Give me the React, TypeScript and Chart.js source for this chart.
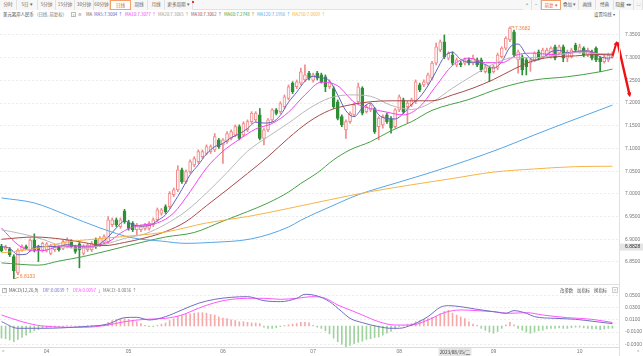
import React, { useEffect, useRef } from "react";
import { Chart, registerables } from "chart.js";

Chart.register(...registerables);

// ---------------- data ----------------
const opens = [
  6.885, 6.878, 6.878, 6.862, 6.826, 6.876, 6.884, 6.876, 6.898, 6.884,
  6.876, 6.876, 6.869, 6.877, 6.884, 6.880, 6.884, 6.895, 6.884, 6.890,
  6.869, 6.877, 6.877, 6.899, 6.888, 6.893, 6.895, 6.932, 6.943, 6.928,
  6.962, 6.938, 6.935, 6.921, 6.921, 6.924, 6.924, 6.932, 6.943, 6.957,
  6.972, 6.972, 6.998, 7.009, 7.053, 7.027, 7.049, 7.064, 7.071, 7.082,
  7.089, 7.093, 7.097, 7.119, 7.108, 7.115, 7.122, 7.130, 7.148, 7.130,
  7.141, 7.159, 7.163, 7.174, 7.122, 7.141, 7.163, 7.185, 7.181, 7.192,
  7.210, 7.244, 7.236, 7.244, 7.251, 7.266, 7.250, 7.266, 7.262, 7.258,
  7.236, 7.232, 7.203, 7.170, 7.141, 7.159, 7.174, 7.203, 7.233, 7.181,
  7.185, 7.188, 7.148, 7.152, 7.174, 7.166, 7.148, 7.185, 7.207, 7.192,
  7.196, 7.203, 7.240, 7.240, 7.244, 7.255, 7.288, 7.317, 7.335, 7.299,
  7.306, 7.284, 7.288, 7.288, 7.295, 7.288, 7.295, 7.295, 7.269, 7.277,
  7.269, 7.277, 7.302, 7.321, 7.339, 7.357, 7.295, 7.302, 7.295, 7.288,
  7.295, 7.313, 7.302, 7.306, 7.302, 7.324, 7.310, 7.324, 7.299, 7.302,
  7.328, 7.313, 7.321, 7.306, 7.313, 7.321, 7.299, 7.291, 7.295, 7.302,
];
const highs = [
  6.889, 6.887, 6.882, 6.866, 6.879, 6.888, 6.887, 6.901, 6.912, 6.887,
  6.894, 6.893, 6.889, 6.887, 6.887, 6.898, 6.903, 6.899, 6.887, 6.893,
  6.888, 6.891, 6.895, 6.903, 6.906, 6.910, 6.950, 6.947, 6.947, 6.947,
  6.966, 6.942, 6.939, 6.935, 6.932, 6.935, 6.939, 6.947, 6.969, 6.968,
  6.976, 7.005, 7.013, 7.062, 7.057, 7.053, 7.075, 7.082, 7.097, 7.097,
  7.108, 7.108, 7.133, 7.122, 7.122, 7.137, 7.141, 7.152, 7.152, 7.159,
  7.163, 7.181, 7.181, 7.188, 7.144, 7.166, 7.188, 7.188, 7.203, 7.218,
  7.240, 7.247, 7.251, 7.277, 7.284, 7.270, 7.266, 7.270, 7.266, 7.262,
  7.251, 7.236, 7.207, 7.174, 7.163, 7.181, 7.200, 7.244, 7.236, 7.196,
  7.200, 7.190, 7.170, 7.174, 7.178, 7.170, 7.188, 7.218, 7.211, 7.204,
  7.211, 7.251, 7.244, 7.251, 7.266, 7.292, 7.332, 7.339, 7.350, 7.313,
  7.313, 7.299, 7.292, 7.299, 7.299, 7.306, 7.299, 7.299, 7.284, 7.280,
  7.284, 7.310, 7.324, 7.346, 7.3682, 7.361, 7.317, 7.306, 7.299, 7.299,
  7.313, 7.317, 7.321, 7.321, 7.324, 7.328, 7.328, 7.328, 7.317, 7.321,
  7.332, 7.330, 7.324, 7.321, 7.317, 7.324, 7.302, 7.306, 7.310, 7.313,
];
const lows = [
  6.872, 6.876, 6.862, 6.8133, 6.822, 6.873, 6.877, 6.873, 6.872, 6.851,
  6.872, 6.872, 6.866, 6.873, 6.874, 6.877, 6.881, 6.881, 6.869, 6.837,
  6.865, 6.873, 6.873, 6.880, 6.884, 6.889, 6.891, 6.928, 6.928, 6.924,
  6.935, 6.920, 6.917, 6.910, 6.917, 6.920, 6.920, 6.928, 6.939, 6.953,
  6.957, 6.968, 6.994, 7.005, 7.023, 7.023, 7.045, 7.060, 7.067, 7.078,
  7.086, 7.089, 7.093, 7.100, 7.067, 7.111, 7.119, 7.126, 7.119, 7.126,
  7.137, 7.155, 7.159, 7.119, 7.108, 7.137, 7.159, 7.174, 7.177, 7.188,
  7.207, 7.221, 7.232, 7.240, 7.247, 7.251, 7.246, 7.251, 7.244, 7.225,
  7.232, 7.188, 7.163, 7.148, 7.122, 7.155, 7.170, 7.199, 7.174, 7.178,
  7.181, 7.133, 7.119, 7.145, 7.155, 7.134, 7.145, 7.181, 7.177, 7.156,
  7.192, 7.199, 7.225, 7.236, 7.240, 7.251, 7.284, 7.313, 7.298, 7.295,
  7.284, 7.280, 7.280, 7.284, 7.284, 7.284, 7.280, 7.269, 7.266, 7.247,
  7.266, 7.273, 7.299, 7.317, 7.335, 7.302, 7.266, 7.262, 7.262, 7.270,
  7.291, 7.295, 7.299, 7.302, 7.299, 7.295, 7.306, 7.291, 7.291, 7.299,
  7.313, 7.310, 7.302, 7.302, 7.295, 7.291, 7.269, 7.288, 7.291, 7.299,
];
const closes = [
  6.875, 6.884, 6.866, 6.831, 6.876, 6.884, 6.880, 6.898, 6.876, 6.876,
  6.891, 6.890, 6.885, 6.884, 6.877, 6.895, 6.899, 6.884, 6.873, 6.877,
  6.884, 6.888, 6.891, 6.884, 6.902, 6.906, 6.943, 6.943, 6.932, 6.943,
  6.938, 6.924, 6.921, 6.932, 6.928, 6.932, 6.935, 6.943, 6.965, 6.965,
  6.961, 7.001, 7.009, 7.053, 7.027, 7.049, 7.071, 7.078, 7.093, 7.093,
  7.104, 7.104, 7.126, 7.104, 7.119, 7.133, 7.137, 7.148, 7.122, 7.155,
  7.159, 7.178, 7.178, 7.122, 7.141, 7.163, 7.185, 7.177, 7.199, 7.214,
  7.236, 7.225, 7.247, 7.269, 7.262, 7.255, 7.262, 7.255, 7.247, 7.236,
  7.247, 7.192, 7.166, 7.152, 7.159, 7.178, 7.196, 7.236, 7.178, 7.192,
  7.196, 7.137, 7.167, 7.170, 7.159, 7.145, 7.185, 7.214, 7.181, 7.200,
  7.207, 7.247, 7.229, 7.247, 7.262, 7.288, 7.324, 7.335, 7.302, 7.310,
  7.288, 7.295, 7.284, 7.295, 7.288, 7.299, 7.284, 7.273, 7.280, 7.266,
  7.280, 7.306, 7.321, 7.343, 7.365, 7.306, 7.313, 7.273, 7.280, 7.295,
  7.310, 7.299, 7.317, 7.317, 7.321, 7.299, 7.324, 7.299, 7.313, 7.317,
  7.317, 7.324, 7.306, 7.317, 7.299, 7.295, 7.291, 7.302, 7.306, 7.310,
];

// moving averages: [candle index, value]
const ma5 = [
  [0, 6.884], [2, 6.880], [4, 6.866], [6, 6.867], [8, 6.883], [10, 6.884], [12, 6.884], [14, 6.885],
  [16, 6.888], [18, 6.886], [20, 6.883], [22, 6.883], [24, 6.890], [26, 6.905], [28, 6.925], [30, 6.940],
  [32, 6.932], [34, 6.929], [36, 6.930], [38, 6.941], [40, 6.954], [42, 6.980], [44, 7.010], [46, 7.042],
  [48, 7.064], [50, 7.088], [52, 7.104], [54, 7.111], [56, 7.124], [58, 7.132], [60, 7.144], [62, 7.158],
  [64, 7.156], [66, 7.158], [68, 7.173], [70, 7.202], [72, 7.224], [74, 7.248], [76, 7.259], [78, 7.256],
  [80, 7.249], [82, 7.218], [84, 7.183], [86, 7.170], [88, 7.189], [90, 7.200], [92, 7.174], [94, 7.166],
  [96, 7.165], [98, 7.177], [100, 7.197], [102, 7.213], [104, 7.238], [106, 7.270], [108, 7.302], [110, 7.312],
  [112, 7.296], [114, 7.290], [116, 7.290], [118, 7.285], [120, 7.277], [122, 7.291], [124, 7.323], [126, 7.330],
  [128, 7.307], [130, 7.294], [132, 7.300], [134, 7.313], [136, 7.316], [138, 7.311], [140, 7.314], [142, 7.315],
  [144, 7.313], [146, 7.302], [148, 7.299], [149, 7.3004],
];
const ma10 = [
  [0, 6.925], [2, 6.905], [4, 6.888], [6, 6.878], [8, 6.875], [10, 6.875], [14, 6.884], [18, 6.885],
  [22, 6.885], [26, 6.894], [30, 6.919], [34, 6.931], [38, 6.936], [42, 6.958], [46, 7.005], [50, 7.057],
  [54, 7.094], [58, 7.120], [62, 7.143], [66, 7.155], [70, 7.180], [74, 7.218], [78, 7.246], [82, 7.238],
  [86, 7.202], [90, 7.188], [94, 7.180], [98, 7.174], [102, 7.192], [106, 7.238], [110, 7.283], [114, 7.299],
  [118, 7.289], [122, 7.289], [126, 7.307], [130, 7.310], [134, 7.307], [138, 7.309], [142, 7.314], [146, 7.308],
  [149, 7.3077],
];
const ma20 = [
  [0, 6.921], [5, 6.912], [10, 6.900], [15, 6.884], [20, 6.880], [25, 6.888], [30, 6.902], [35, 6.912],
  [40, 6.933], [45, 6.962], [50, 7.002], [55, 7.047], [60, 7.094], [65, 7.126], [70, 7.156], [75, 7.188],
  [80, 7.211], [85, 7.218], [90, 7.215], [95, 7.195], [100, 7.186], [105, 7.202], [110, 7.233], [115, 7.261],
  [120, 7.286], [125, 7.300], [130, 7.300], [135, 7.305], [140, 7.311], [145, 7.309], [149, 7.3065],
];
const ma30 = [
  [0, 6.900], [8, 6.905], [15, 6.900], [20, 6.893], [25, 6.886], [30, 6.893], [35, 6.903], [40, 6.917],
  [45, 6.939], [50, 6.974], [55, 7.009], [60, 7.045], [65, 7.082], [70, 7.123], [75, 7.159], [80, 7.184],
  [85, 7.196], [90, 7.203], [95, 7.205], [100, 7.205], [105, 7.205], [110, 7.218], [115, 7.233], [120, 7.252],
  [125, 7.275], [130, 7.294], [135, 7.302], [140, 7.304], [145, 7.307], [149, 7.3062],
];
const ma60 = [
  [0, 6.848], [9, 6.843], [14, 6.852], [20, 6.862], [30, 6.884], [40, 6.905], [47, 6.915], [54, 6.940],
  [60, 6.961], [65, 6.980], [70, 7.004], [73, 7.023], [77, 7.046], [81, 7.075], [85, 7.097], [90, 7.115],
  [95, 7.139], [100, 7.159], [105, 7.184], [114, 7.208], [122, 7.234], [130, 7.251], [138, 7.258], [146, 7.269],
  [149, 7.2748],
];
const ma120 = [
  [0, 6.991], [8, 6.980], [16, 6.953], [24, 6.925], [32, 6.903], [39, 6.896], [45, 6.891], [51, 6.893],
  [61, 6.901], [70, 6.927], [73, 6.942], [80, 6.971], [87, 6.998], [97, 7.026], [105, 7.048], [114, 7.075],
  [122, 7.101], [130, 7.130], [138, 7.158], [149, 7.1956],
];
const ma250 = [
  [0, 6.870], [8, 6.879], [16, 6.894], [26, 6.903], [40, 6.916], [50, 6.936], [60, 6.950], [70, 6.968],
  [80, 6.987], [90, 7.005], [100, 7.020], [110, 7.034], [120, 7.048], [130, 7.055], [140, 7.060], [149, 7.0609],
];

const macdHist = [
  -0.020, -0.021, -0.023, -0.026, -0.022, -0.019, -0.015, -0.011, -0.008, -0.006,
  -0.004, -0.003, -0.002, -0.002, -0.001, -0.001, 0.0005, 0.0005, -0.0005, -0.001,
  -0.0005, 0.0005, 0.001, 0.0005, 0.001, 0.002, 0.006, 0.009, 0.011, 0.012,
  0.012, 0.011, 0.009, 0.007, 0.004, 0.001, -0.001, -0.001, 0.001, 0.003,
  0.005, 0.009, 0.012, 0.016, 0.017, 0.019, 0.020, 0.021, 0.022, 0.022,
  0.021, 0.019, 0.018, 0.015, 0.013, 0.012, 0.010, 0.009, 0.007, 0.007,
  0.006, 0.005, 0.005, 0.004, -0.002, -0.004, -0.004, -0.003, -0.001, 0.001,
  0.002, 0.003, 0.004, 0.006, 0.006, 0.005, 0.001, -0.002, -0.004, -0.008,
  -0.013, -0.020, -0.026, -0.030, -0.034, -0.032, -0.029, -0.027, -0.025, -0.022,
  -0.021, -0.019, -0.018, -0.015, -0.012, -0.009, -0.005, -0.001, 0.001, 0.003,
  0.004, 0.007, 0.009, 0.011, 0.012, 0.014, 0.016, 0.020, 0.024, 0.026,
  0.021, 0.018, 0.015, 0.012, 0.007, 0.003, 0.001, -0.004, -0.007, -0.010,
  -0.012, -0.009, -0.004, 0.002, 0.006, 0.002, -0.004, -0.007, -0.010, -0.012,
  -0.010, -0.008, -0.007, -0.005, -0.004, -0.004, -0.003, -0.004, -0.004, -0.003,
  -0.002, -0.002, -0.003, -0.004, -0.005, -0.005, -0.006, -0.005, -0.004, -0.0036,
];
const difLine = [
  [0, 0.0071], [4, -0.0038], [10, -0.0038], [20, -0.001], [26, 0.0033], [30, 0.0137], [33, 0.0143], [36, 0.0099],
  [40, 0.0154], [44, 0.0264], [48, 0.0373], [52, 0.0439], [56, 0.0472], [60, 0.0483], [64, 0.0417], [68, 0.0401],
  [72, 0.0456], [74, 0.0522], [77, 0.0494], [80, 0.0401], [83, 0.0236], [85, 0.0126], [88, 0.0055], [92, -0.0011],
  [95, -0.0038], [97, -0.0038], [100, 0.0016], [104, 0.0154], [107, 0.0308], [109, 0.0335], [112, 0.0318], [116, 0.0274],
  [120, 0.0236], [123, 0.0209], [125, 0.0253], [128, 0.0209], [130, 0.0154], [135, 0.0126], [140, 0.011], [145, 0.0071],
  [149, 0.0039],
];
const deaLine = [
  [0, 0.0181], [5, 0.0071], [10, 0.0], [20, -0.0022], [26, 0.0016], [30, 0.0071], [35, 0.011], [40, 0.0126],
  [44, 0.0181], [48, 0.0291], [52, 0.0384], [56, 0.0439], [60, 0.0456], [64, 0.0456], [68, 0.0439], [72, 0.0456],
  [76, 0.0483], [79, 0.0456], [82, 0.0346], [85, 0.0264], [88, 0.0181], [92, 0.0071], [96, 0.0016], [100, 0.0016],
  [104, 0.0099], [108, 0.022], [112, 0.0264], [116, 0.0253], [120, 0.0236], [124, 0.0209], [128, 0.022], [132, 0.0181],
  [138, 0.0137], [144, 0.011], [149, 0.0057],
];

const monthTickIndex = [11, 31, 54, 76, 97, 120, 141];
const monthTickLabels = ["04", "05", "06", "07", "08", "09", "10"];
const priceTicks = [7.35, 7.3, 7.25, 7.2, 7.15, 7.1, 7.05, 7.0, 6.95, 6.9, 6.85];
const macdTicks = [0.05, 0.03, 0.01, -0.01, -0.03];

const maNames = ["MA5", "MA10", "MA20", "MA30", "MA60", "MA120", "MA250"];
const maLatest = [7.3004, 7.3077, 7.3065, 7.3062, 7.2748, 7.1956, 7.0609];
const maColors = ["#6262bd", "#f244f2", "#b8b8b8", "#a84a4a", "#45a045", "#55a6e8", "#f6b449"];
const difLatest = 0.0039;
const deaLatest = 0.0057;
const macdLatest = -0.0036;

const crosshairPrice = 6.8828;
const crosshairIndex = 110.6;
const crosshairDate = "2023/08/15/二";
const highIndex = 124;
const lowIndex = 3;
const arrowUp = [[149.1, 7.306], [150.1, 7.337]];
const arrowDown = [[150.3, 7.332], [153.3, 7.213]];

// ---------------- styling ----------------
const X_MIN = -0.37;
const X_MAX = 150.6;
const P_MIN = 6.7993;
const P_MAX = 7.3852;
const M_MIN = -0.0346;
const M_MAX = 0.0675;
const AXIS_W = 24;
const UP_FILL = "#fff2f2";
const UP_LINE = "#f08c8c";
const DOWN = "#2f8f36";
const MARK = "#ef7f3a";
const DIF_C = "#6e6ec2";
const DEA_C = "#ff55ff";
const TICK_FONT = { size: 5, family: "'Liberation Sans', Arial, sans-serif" };

const fixY = (axis: any) => {
  axis.width = AXIS_W;
  axis.paddingTop = 0;
  axis.paddingBottom = 0;
};
const fixX = (axis: any) => {
  axis.height = 9;
  axis.paddingLeft = 0;
  axis.paddingRight = 0;
};

function drawArrow(ctx: CanvasRenderingContext2D, x1: number, y1: number, x2: number, y2: number, w: number, head: number) {
  const a = Math.atan2(y2 - y1, x2 - x1);
  ctx.lineWidth = w;
  ctx.beginPath();
  ctx.moveTo(x1, y1);
  ctx.lineTo(x2 - Math.cos(a) * head * 0.6, y2 - Math.sin(a) * head * 0.6);
  ctx.stroke();
  ctx.beginPath();
  ctx.moveTo(x2, y2);
  ctx.lineTo(x2 - head * Math.cos(a - 0.45), y2 - head * Math.sin(a - 0.45));
  ctx.lineTo(x2 - head * Math.cos(a + 0.45), y2 - head * Math.sin(a + 0.45));
  ctx.closePath();
  ctx.fill();
}

const pricePlugin = {
  id: "priceMarks",
  afterDraw(chart: any) {
    const { ctx, scales, chartArea } = chart;
    const x = scales.x;
    const y = scales.y;
    ctx.save();
    ctx.font = "5px 'Liberation Sans', Arial, sans-serif";
    ctx.textBaseline = "middle";
    const hx = x.getPixelForValue(highIndex);
    const hy = y.getPixelForValue(highs[highIndex]);
    ctx.strokeStyle = MARK;
    ctx.fillStyle = MARK;
    ctx.lineWidth = 0.8;
    ctx.beginPath();
    ctx.moveTo(hx + 1, hy);
    ctx.lineTo(hx + 4, hy);
    ctx.lineTo(hx + 4, hy + 1.5);
    ctx.stroke();
    ctx.fillText(highs[highIndex].toFixed(4), hx + 5, hy + 2);
    const lx = x.getPixelForValue(lowIndex);
    const ly = y.getPixelForValue(lows[lowIndex]);
    ctx.beginPath();
    ctx.moveTo(lx + 1, ly);
    ctx.lineTo(lx + 5, ly - 1.5);
    ctx.stroke();
    ctx.fillText(lows[lowIndex].toFixed(4), lx + 6, ly - 2);
    const cy = y.getPixelForValue(crosshairPrice);
    ctx.fillStyle = "#e4e4e4";
    ctx.fillRect(chartArea.right + 1, cy - 3.5, AXIS_W - 1, 7);
    ctx.fillStyle = "#333";
    ctx.fillText(crosshairPrice.toFixed(4), chartArea.right + 6, cy);
    ctx.strokeStyle = "#ee1111";
    ctx.fillStyle = "#ee1111";
    ctx.lineCap = "round";
    drawArrow(ctx, x.getPixelForValue(arrowUp[0][0]), y.getPixelForValue(arrowUp[0][1]),
      x.getPixelForValue(arrowUp[1][0]), y.getPixelForValue(arrowUp[1][1]), 2, 5);
    drawArrow(ctx, x.getPixelForValue(arrowDown[0][0]), y.getPixelForValue(arrowDown[0][1]),
      x.getPixelForValue(arrowDown[1][0]), y.getPixelForValue(arrowDown[1][1]), 2.4, 5);
    ctx.restore();
  },
};

const macdPlugin = {
  id: "macdMarks",
  afterDraw(chart: any) {
    const { ctx, scales, chartArea } = chart;
    const px = scales.x.getPixelForValue(crosshairIndex);
    ctx.save();
    ctx.font = "4.6px 'Noto Sans CJK SC', sans-serif";
    ctx.textBaseline = "middle";
    ctx.textAlign = "center";
    const w = 33;
    ctx.fillStyle = "#e4e4e4";
    ctx.fillRect(px - w / 2, chartArea.bottom + 1, w, 8);
    ctx.fillStyle = "#333";
    ctx.fillText(crosshairDate, px, chartArea.bottom + 5);
    ctx.restore();
  },
};

const maSets = [ma5, ma10, ma20, ma30, ma60, ma120, ma250];

export default function App() {
  const priceRef = useRef<HTMLCanvasElement>(null);
  const macdRef = useRef<HTMLCanvasElement>(null);

  useEffect(() => {
    const up = (i: number) => closes[i] >= opens[i];
    const lineSets = maSets.map((pts, k) => ({
      type: "line",
      data: pts.map(([a, b]) => ({ x: a, y: b })),
      borderColor: maColors[k],
      borderWidth: 1,
      pointRadius: 0,
      cubicInterpolationMode: "monotone",
      order: 1 + (6 - k) * 0.01,
    }));
    const price = new Chart(priceRef.current as HTMLCanvasElement, {
      type: "bar",
      data: {
        datasets: [
          ...lineSets,
          {
            type: "bar",
            data: closes.map((c, i) => ({ x: i, y: [opens[i], c] })),
            backgroundColor: closes.map((_, i) => (up(i) ? UP_FILL : DOWN)),
            borderColor: closes.map((_, i) => (up(i) ? UP_LINE : DOWN)),
            borderWidth: 1,
            borderSkipped: false,
            barThickness: 3,
            minBarLength: 1,
            grouped: false,
            order: 5,
          },
          {
            type: "bar",
            data: closes.map((_, i) => ({ x: i, y: [lows[i], highs[i]] })),
            backgroundColor: closes.map((_, i) => (up(i) ? UP_LINE : DOWN)),
            borderWidth: 0,
            barThickness: 1,
            grouped: false,
            order: 6,
          },
        ] as any,
      },
      options: {
        responsive: false,
        animation: false,
        events: [],
        layout: { padding: 0 },
        plugins: { legend: { display: false }, tooltip: { enabled: false } },
        scales: {
          x: { type: "linear", min: X_MIN, max: X_MAX, offset: false, display: false },
          y: {
            type: "linear",
            position: "right",
            min: P_MIN,
            max: P_MAX,
            beginAtZero: false,
            afterFit: fixY,
            afterBuildTicks: (axis: any) => {
              axis.ticks = priceTicks.map((v) => ({ value: v }));
            },
            grid: { color: "#ececec", drawTicks: false },
            border: { display: true, color: "#dcdcdc", dash: [2, 2] },
            ticks: {
              padding: 6,
              color: "#777",
              font: TICK_FONT,
              callback: (v: any) => Number(v).toFixed(4),
            },
          },
        },
      } as any,
      plugins: [pricePlugin],
    });

    const macd = new Chart(macdRef.current as HTMLCanvasElement, {
      type: "bar",
      data: {
        datasets: [
          {
            type: "line",
            data: difLine.map(([a, b]) => ({ x: a, y: b })),
            borderColor: DIF_C,
            borderWidth: 1,
            pointRadius: 0,
            cubicInterpolationMode: "monotone",
            order: 1,
          },
          {
            type: "line",
            data: deaLine.map(([a, b]) => ({ x: a, y: b })),
            borderColor: DEA_C,
            borderWidth: 1,
            pointRadius: 0,
            cubicInterpolationMode: "monotone",
            order: 2,
          },
          {
            type: "bar",
            data: macdHist.map((v, i) => ({ x: i, y: v })),
            backgroundColor: macdHist.map((v) => (v >= 0 ? "#f5a9a9" : "#9ed39e")),
            borderWidth: 0,
            barThickness: 1,
            grouped: false,
            order: 5,
          },
        ] as any,
      },
      options: {
        responsive: false,
        animation: false,
        events: [],
        layout: { padding: 0 },
        plugins: { legend: { display: false }, tooltip: { enabled: false } },
        scales: {
          x: {
            type: "linear",
            min: X_MIN,
            max: X_MAX,
            offset: false,
            afterFit: fixX,
            afterBuildTicks: (axis: any) => {
              axis.ticks = monthTickIndex.map((v) => ({ value: v }));
            },
            grid: { display: false, drawTicks: false },
            border: { display: true, color: "#dcdcdc" },
            ticks: {
              padding: 2,
              color: "#777",
              font: TICK_FONT,
              autoSkip: false,
              maxRotation: 0,
              callback: (_v: any, idx: number) => monthTickLabels[idx],
            },
          },
          y: {
            type: "linear",
            position: "right",
            min: M_MIN,
            max: M_MAX,
            beginAtZero: false,
            afterFit: fixY,
            afterBuildTicks: (axis: any) => {
              axis.ticks = macdTicks.map((v) => ({ value: v }));
            },
            grid: { color: "#ececec", drawTicks: false },
            border: { display: true, color: "#dcdcdc", dash: [2, 2] },
            ticks: {
              padding: 6,
              color: "#777",
              font: TICK_FONT,
              callback: (v: any) => Number(v).toFixed(4),
            },
          },
        },
      } as any,
      plugins: [macdPlugin],
    });

    return () => {
      price.destroy();
      macd.destroy();
    };
  }, []);

  const cjk = "'Noto Sans CJK SC', 'Noto Sans', sans-serif";
  const btn = (label: string, left: number, width: number, active = false) => (
    <div
      key={label + left}
      style={{
        position: "absolute",
        top: 0,
        left,
        width,
        height: 10,
        lineHeight: "9px",
        fontSize: 4.6,
        textAlign: "center",
        color: active ? "#e8632a" : "#666",
        background: active ? "#fff" : "#f7f7f7",
        border: active ? "1px solid #f2a06c" : "none",
        borderRight: active ? "1px solid #f2a06c" : "1px solid #e2e2e2",
        boxSizing: "border-box",
        whiteSpace: "nowrap",
        overflow: "hidden",
      }}
    >
      {label}
    </div>
  );
  const txt = (content: any, left: number, top: number, color = "#555", size = 4.4) => (
    <div
      style={{
        position: "absolute",
        left,
        top,
        fontSize: size,
        lineHeight: "7px",
        color,
        whiteSpace: "nowrap",
      }}
    >
      {content}
    </div>
  );
  const maLefts = [94, 125, 158, 191, 224, 257, 292];

  return (
    <div
      style={{
        position: "absolute",
        left: 0,
        top: 0,
        width: 643,
        height: 356,
        background: "#fff",
        overflow: "hidden",
        fontFamily: cjk,
      }}
    >
      <div style={{ position: "absolute", left: 0, top: 0, width: 643, height: 10, background: "#f7f7f7", borderBottom: "1px solid #e2e2e2", boxSizing: "border-box" }} />
      {btn("分时", 0, 17)}
      {btn("5日 ▾", 17, 21)}
      {btn("5分钟", 38, 18)}
      {btn("15分钟", 56, 19)}
      {btn("30分钟", 75, 19)}
      {btn("60分钟", 94, 16)}
      {btn("日线", 110, 21, true)}
      {btn("周线", 131, 17)}
      {btn("月线", 148, 17)}
      {btn("更多周期 ▾", 165, 28)}
      <div style={{ position: "absolute", left: 192, top: 1, width: 2, height: 2, background: "#e33" }} />
      {btn("+", 523, 9)}
      {btn("−", 532, 9)}
      {btn("前复 ▾", 541, 20, true)}
      {btn("叠加 ▾", 561, 18)}
      {btn("画线", 579, 17)}
      {btn("经典", 596, 18)}
      {btn("隐藏 ◂▸", 614, 20)}
      {btn("⛶", 634, 9)}

      <canvas ref={priceRef} width={643} height={266} style={{ position: "absolute", left: 0, top: 19, width: 643, height: 266 }} />
      <canvas ref={macdRef} width={643} height={71} style={{ position: "absolute", left: 0, top: 285, width: 643, height: 71 }} />

      <div style={{ position: "absolute", left: 0, top: 284, width: 619, height: 1, background: "#e0e0e0" }} />
      <div style={{ position: "absolute", left: 619, top: 10, width: 1, height: 346, background: "#e0e0e0" }} />

      {txt("美元离岸人民币", 3, 11, "#333")}
      {txt("(日线, 前复权)", 37, 11, "#777")}
      <div style={{ position: "absolute", left: 71, top: 12, width: 5, height: 5, border: "1px solid #bbb", boxSizing: "border-box", fontSize: 4, lineHeight: "4px", textAlign: "center", color: "#888" }}>?</div>
      {txt("⚙", 78, 11, "#888")}
      {txt("MA", 86, 11, "#666")}
      {maNames.map((n, k) => (
        <React.Fragment key={n}>
          {txt(
            <span>
              {n}:{maLatest[k].toFixed(4)} ↑
            </span>,
            maLefts[k],
            11,
            maColors[k] === "#b8b8b8" ? "#999" : maColors[k]
          )}
        </React.Fragment>
      ))}
      {txt("设置均线 ▾", 594, 11, "#555")}

      <div style={{ position: "absolute", left: 2, top: 288, width: 5, height: 5, border: "1px solid #bbb", boxSizing: "border-box", fontSize: 4, lineHeight: "3px", textAlign: "center", color: "#888" }}>↑</div>
      {txt("MACD(12,26,9)", 9, 287, "#555")}
      {txt(<span>DIF:{difLatest.toFixed(4)} ↑</span>, 43, 287, DIF_C)}
      {txt(<span>DEA:{deaLatest.toFixed(4)} ↓</span>, 73, 287, DEA_C)}
      {txt(<span>MACD:{macdLatest.toFixed(4)} ↑</span>, 103, 287, "#777")}
      {txt("改参数", 560, 287, "#555")}
      {txt("加指标", 577, 287, "#555")}
      {txt("换指标", 594, 287, "#555")}
      <div style={{ position: "absolute", left: 612, top: 287, width: 6, height: 6, border: "1px solid #ccc", boxSizing: "border-box", fontSize: 4, lineHeight: "4px", textAlign: "center", color: "#999" }}>×</div>

      {txt("<", 2, 348, "#999")}
      {txt(">", 637, 348, "#999")}
    </div>
  );
}
